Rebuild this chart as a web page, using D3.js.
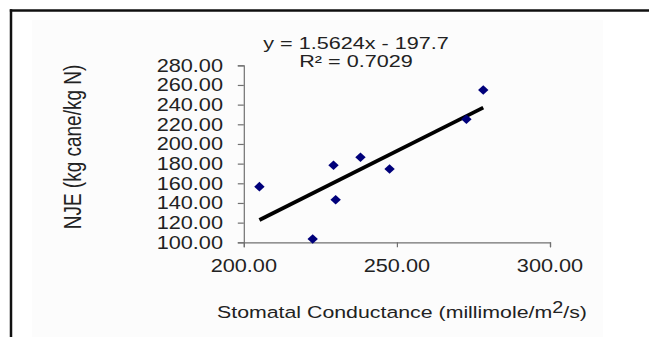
<!DOCTYPE html>
<html><head><meta charset="utf-8">
<script src="https://cdn.jsdelivr.net/npm/d3@7"></script>
<style>
html,body{margin:0;padding:0;background:#fff;}
svg{display:block;font-family:"Liberation Sans",Arial,sans-serif;}
</style></head>
<body>
<svg id="chart" width="649" height="337"></svg>
<script>
// Data
const conductance = [205.1, 222.5, 229.3, 230.0, 238.1, 247.6, 272.7, 278.2];
const nue = [156.6, 103.4, 178.3, 143.3, 186.5, 174.6, 225.1, 254.9];
const xTicks = [200, 250, 300];
const yTicks = [100, 120, 140, 160, 180, 200, 220, 240, 260, 280];
const slope = 1.5624, intercept = -197.7;
const eqLines = ["y = 1.5624x - 197.7", "R\u00B2 = 0.7029"];
const xTitle = "Stomatal  Conductance (millimole/m";
const yTitle = "NJE  (kg cane/kg N)";

const svg = d3.select("#chart");
const SX = 1.24; // horizontal stretch of the source picture

// frame
svg.append("rect").attr("x",32).attr("y",20).attr("width",571).attr("height",317).attr("fill","#fcfcfc");
svg.append("line").attr("x1",9.8).attr("x2",649).attr("y1",10.5).attr("y2",10.5).attr("stroke","#111").attr("stroke-width",2.5);
svg.append("line").attr("x1",11).attr("x2",11).attr("y1",9.3).attr("y2",337).attr("stroke","#111").attr("stroke-width",2.5);

const x = d3.scaleLinear().domain([200,300]).range([243.8,550]);
const y = d3.scaleLinear().domain([100,280]).range([242.3,65.3]);

// axes
const gx = svg.append("g").attr("transform",`translate(0,${y(100)})`)
  .call(d3.axisBottom(x).tickValues(xTicks).tickSize(5).tickFormat(""));
const gy = svg.append("g").attr("transform",`translate(${x(200)},0)`)
  .call(d3.axisLeft(y).tickValues(yTicks).tickSize(6).tickFormat(""));
[gx,gy].forEach(g=>{g.selectAll("path,line").attr("stroke","#707070").attr("stroke-width",1.2);});

const fmt = d3.format(".2f");
// tick labels
svg.selectAll(".ylab").data(yTicks).enter().append("text")
  .attr("transform",d=>`translate(223,${y(d)+6.3}) scale(${SX},1)`)
  .attr("text-anchor","end").attr("font-size",17.5).attr("fill","#222")
  .text(d=>fmt(d));
svg.selectAll(".xlab").data(xTicks).enter().append("text")
  .attr("transform",d=>`translate(${x(d)},271.5) scale(${SX},1)`)
  .attr("text-anchor","middle").attr("font-size",17.5).attr("fill","#222")
  .text(d=>fmt(d));

// trend line
const xs = d3.extent(conductance);
svg.append("line")
  .attr("x1",x(xs[0])).attr("y1",y(slope*xs[0]+intercept))
  .attr("x2",x(xs[1])).attr("y2",y(slope*xs[1]+intercept))
  .attr("stroke","#000").attr("stroke-width",3.8).attr("stroke-linecap","butt");

// points
const pts = conductance.map((c,i)=>({c, v:nue[i]}));
svg.selectAll(".pt").data(pts).enter().append("path")
  .attr("transform",d=>`translate(${x(d.c)},${y(d.v)})`)
  .attr("d","M0,-4.8L5.2,0L0,4.8L-5.2,0Z")
  .attr("fill","#00007a");

// equation
eqLines.forEach((t,i)=>{
  svg.append("text").attr("transform",`translate(356,${48.5+i*18.6}) scale(1.31,1)`)
    .attr("text-anchor","middle").attr("font-size",16.5).attr("fill","#222").text(t);
});

// x title
const xt = svg.append("text").attr("transform",`translate(217,318.3) scale(${SX},1)`)
  .attr("font-size",17.2).attr("fill","#222");
xt.append("tspan").text(xTitle);
xt.append("tspan").attr("dy",-5).attr("font-size",16).text("2");
xt.append("tspan").attr("dy",5).text("/s)");

// y title
svg.append("text").attr("transform",`translate(81,147) scale(${SX},1) rotate(-90)`)
  .attr("text-anchor","middle").attr("font-size",19).attr("fill","#222").text(yTitle);
</script>
</body></html>
